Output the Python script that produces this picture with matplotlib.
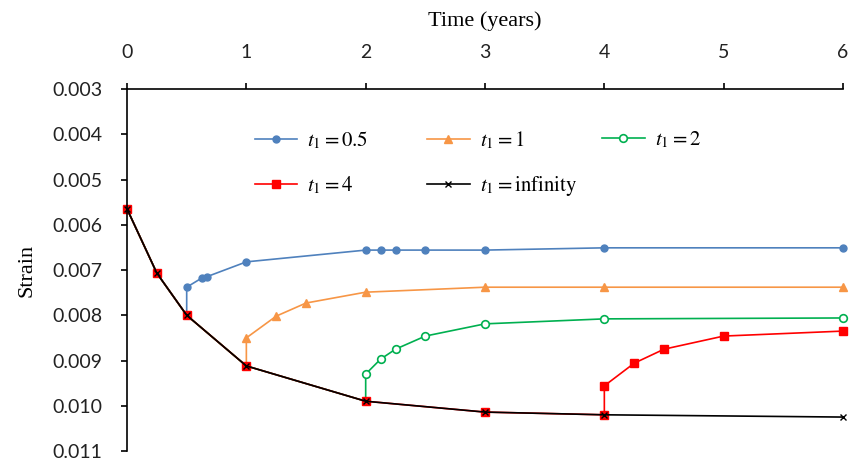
import numpy as np
import matplotlib
matplotlib.use('Agg')
import matplotlib.pyplot as plt
from matplotlib.legend import Legend

plt.rcParams['mathtext.fontset'] = 'stix'

# Data (time in years, strain)
t_inf = [0, 0.25, 0.5, 1, 2, 3, 4, 6]
s_inf = [0.00565, 0.00707, 0.0080, 0.00912, 0.0099, 0.01014, 0.0102, 0.01025]

t_05 = [0, 0.25, 0.5, 0.5, 0.625, 0.667, 1, 2, 2.125, 2.25, 2.5, 3, 4, 6]
s_05 = [0.00565, 0.00707, 0.0080, 0.00738, 0.00718, 0.00715, 0.00682,
        0.00656, 0.00656, 0.00656, 0.00656, 0.00656, 0.00651, 0.00651]

t_1 = [0, 0.25, 0.5, 1, 1, 1.25, 1.5, 2, 3, 4, 6]
s_1 = [0.00565, 0.00707, 0.0080, 0.00912, 0.0085, 0.00802, 0.00773,
       0.00749, 0.00738, 0.00738, 0.00738]

t_2 = [0, 0.25, 0.5, 1, 2, 2, 2.125, 2.25, 2.5, 3, 4, 6]
s_2 = [0.00565, 0.00707, 0.0080, 0.00912, 0.0099, 0.0093, 0.00897,
       0.00875, 0.00846, 0.00819, 0.00808, 0.00806]

t_4 = [0, 0.25, 0.5, 1, 2, 3, 4, 4, 4.25, 4.5, 5, 6]
s_4 = [0.00565, 0.00707, 0.0080, 0.00912, 0.0099, 0.01014, 0.0102,
       0.00956, 0.00906, 0.00875, 0.00846, 0.00835]

fig = plt.figure(figsize=(8.56, 4.65), dpi=100)
ax = fig.add_axes([0.1484, 0.0301, 0.8364, 0.7785])

# markers only after the jump for the coloured curves,
# the shared part sits under the black curve anyway
l1, = ax.plot(t_05, s_05, color='#4F81BD', lw=1.2, marker='o', ms=5,
              markevery=list(range(3, len(t_05))), clip_on=False)
l2, = ax.plot(t_1, s_1, color='#F79646', lw=1.2, marker='^', ms=5.5,
              markevery=list(range(4, len(t_1))), clip_on=False)
l3, = ax.plot(t_2, s_2, color='#00B050', lw=1.2, marker='o', ms=5.5,
              mfc='white', mew=1.2, markevery=list(range(5, len(t_2))),
              clip_on=False)
l4, = ax.plot(t_4, s_4, color='#FF0000', lw=1.2, marker='s', ms=6,
              clip_on=False)
l5, = ax.plot(t_inf, s_inf, color='black', lw=1.2, marker='x', ms=5, mew=1,
              clip_on=False)

ax.set_xlim(0, 6)
ax.set_ylim(0.011, 0.003)
ax.set_xticks(np.arange(0, 7, 1))
ax.set_yticks(np.arange(0.003, 0.0111, 0.001))
ax.yaxis.set_major_formatter(matplotlib.ticker.FormatStrFormatter('%.3f'))
ax.xaxis.tick_top()
ax.xaxis.set_label_position('top')
for side in ['right', 'bottom']:
    ax.spines[side].set_visible(False)
for side in ['left', 'top']:
    ax.spines[side].set_linewidth(1.2)
ax.tick_params(direction='out', length=4, width=1.2, labelsize=14)
ax.tick_params(axis='y', pad=14)
ax.tick_params(axis='x', pad=16)
for lab in ax.get_xticklabels() + ax.get_yticklabels():
    lab.set_family('Lato')
    lab.set_color('#222222')

ax.set_xlabel('Time (years)', family='Liberation Serif', fontsize=16, labelpad=13)
ax.set_ylabel('Strain', family='Liberation Serif', fontsize=16, labelpad=11)

# Excel-style legend with equal-width columns: one small legend per column
columns = [([l1, l4], [r'$t_1 = 0.5$', r'$t_1 = 4$'], 0.152),
           ([l2, l5], [r'$t_1 = 1$', r'$t_1 = \mathrm{infinity}$'], 0.3925),
           ([l3], [r'$t_1 = 2$'], 0.637)]
for hs, labs, x0 in columns:
    leg = Legend(ax, hs, labs, frameon=False, loc='upper left',
                 bbox_to_anchor=(x0, 0.94), fontsize=15, handlelength=2.05,
                 labelspacing=1.1, handletextpad=0.48)
    ax.add_artist(leg)

fig.savefig('out.png', dpi=100)
